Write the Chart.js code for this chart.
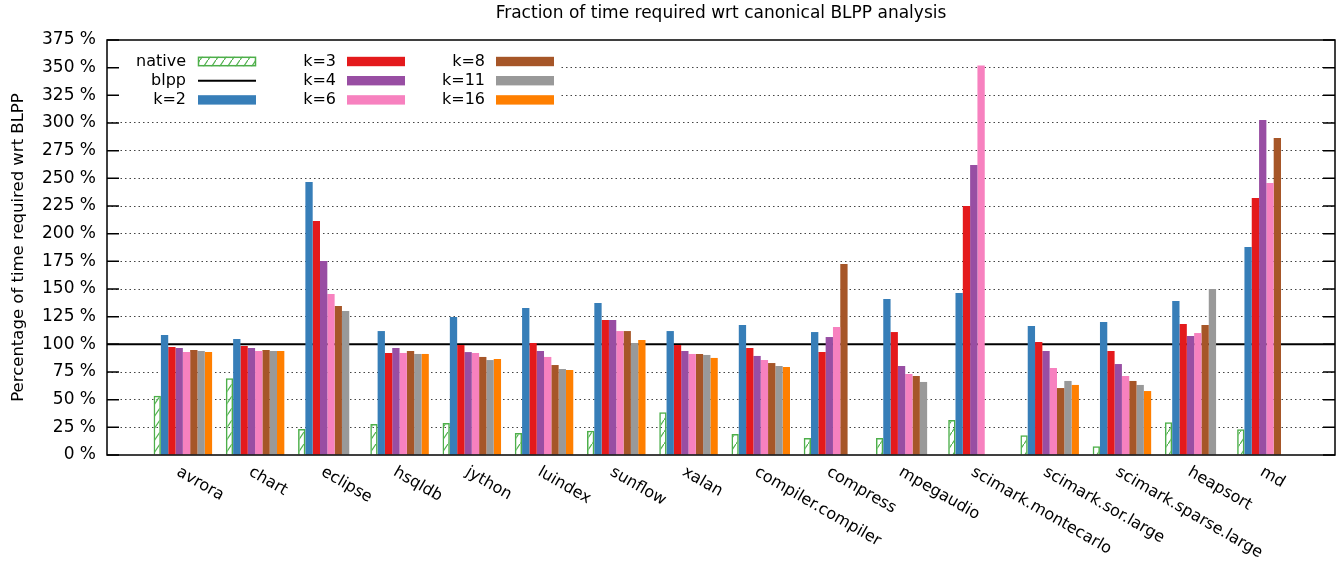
<!DOCTYPE html>
<html>
<head>
<meta charset="utf-8">
<script src="https://cdn.jsdelivr.net/npm/chart.js@4.4.1/dist/chart.umd.min.js"></script>
<style>
  html, body { margin: 0; padding: 0; background: #fff; }
</style>
</head>
<body>
<canvas id="chartBars" width="1343" height="562"></canvas>
<script>
// benchmarks on the x axis
const categories = [
  "avrora", "chart", "eclipse", "hsqldb", "jython", "luindex", "sunflow", "xalan",
  "compiler.compiler", "compress", "mpegaudio", "scimark.montecarlo",
  "scimark.sor.large", "scimark.sparse.large", "heapsort", "md",
];

// percentages of time wrt canonical BLPP (null = no bar)
const native = [53.6, 69.3, 23.5, 28, 28.9, 19.9, 22, 38.6, 19, 15.4, 15.4, 31.6, 17.8, 7.8, 29.5, 23.2];
const k2 = [108.4, 104.8, 246.7, 112, 124.7, 132.8, 137.3, 112, 117.5, 111.1, 141, 146.4, 116.6, 120.2, 139.2, 188];
const k3 = [97.6, 98.5, 211.4, 92.2, 99.4, 101.2, 122, 99.4, 96.7, 93.1, 111.1, 225, 102.1, 94, 118.4, 232.2];
const k4 = [96.7, 96.7, 175.3, 96.7, 93, 94, 122, 94, 89.5, 106.6, 80.4, 262, 94, 82.2, 107.5, 302.7];
const k6 = [93.1, 94, 145.5, 92.2, 92.2, 88.6, 112, 91.3, 85.8, 115.7, 73.2, 352, 78.6, 71.4, 110.2, 245.8];
const k8 = [94.9, 94.9, 134.6, 94, 88.6, 81.3, 112, 91.3, 83.1, 172.6, 71.4, null, 60.5, 66.9, 117.5, 286.4];
const k11 = [94, 94, 130.1, 91.3, 85.8, 77.7, 101.2, 90.4, 80.4, null, 66, null, 66.9, 63.3, 150, null];
const k16 = [93.1, 94, null, 91.3, 86.7, 76.8, 103.9, 87.7, 79.5, null, null, null, 63.3, 57.8, null, null];

const kLabels = ["k=2", "k=3", "k=4", "k=6", "k=8", "k=11", "k=16"];
const kSeries = [k2, k3, k4, k6, k8, k11, k16];
const kColors = ["#377eb8", "#e41a1c", "#984ea3", "#f781bf", "#a65628", "#999999", "#ff7f00"];

// y axis ticks and reference level
const Y_MIN = 0;
const Y_MAX = 375;
const Y_STEP = 25;
const BLPP_LEVEL = 100;
// x range in group units (gnuplot histogram range)
const X_MIN = -1.05;
const X_MAX = 15.95;

const FONT = "DejaVu Sans";
const GREEN = "#4daf4a";

const canvas = document.getElementById("chartBars");
const ctx = canvas.getContext("2d");

// hatched fill for the native bars
function makeHatch() {
  const c = document.createElement("canvas");
  c.width = 8;
  c.height = 12;
  const g = c.getContext("2d");
  g.strokeStyle = GREEN;
  g.lineWidth = 1.2;
  g.beginPath();
  g.moveTo(0, 12);
  g.lineTo(8, 0);
  g.stroke();
  return ctx.createPattern(c, "repeat");
}
const hatch = makeHatch();

const toPoints = (vals) => vals.map((v, i) => ({ x: i, y: v }));

const datasets = [
  {
    label: "native",
    data: toPoints(native),
    backgroundColor: hatch,
    borderColor: GREEN,
    borderWidth: 1.5,
    borderSkipped: "bottom",
  },
  {
    type: "line",
    label: "blpp",
    data: [{ x: X_MIN, y: BLPP_LEVEL }, { x: X_MAX, y: BLPP_LEVEL }],
    borderColor: "#000",
    borderWidth: 2,
    pointRadius: 0,
    order: 10,
  },
];
kSeries.forEach((vals, i) => {
  datasets.push({
    label: kLabels[i],
    data: toPoints(vals),
    backgroundColor: kColors[i],
    borderWidth: 0,
  });
});

// frame, inward ticks, rotated x labels and the key (gnuplot look)
const gnuplotBits = {
  id: "gnuplotBits",
  afterDatasetsDraw(chart) {
    const { ctx, chartArea: a, scales } = chart;
    ctx.save();
    ctx.strokeStyle = "#000";
    ctx.lineWidth = 1.5;
    ctx.strokeRect(a.left, a.top, a.right - a.left, a.bottom - a.top);
    ctx.beginPath();
    scales.y.ticks.forEach((t) => {
      const y = scales.y.getPixelForValue(t.value);
      ctx.moveTo(a.left, y);
      ctx.lineTo(a.left + 12, y);
      ctx.moveTo(a.right - 12, y);
      ctx.lineTo(a.right, y);
    });
    ctx.stroke();
    ctx.restore();
  },
  afterDraw(chart) {
    const { ctx, chartArea: a, scales } = chart;
    ctx.save();
    ctx.fillStyle = "#000";
    ctx.font = "16px '" + FONT + "'";

    // x labels rotated by -30 (clockwise) starting at the tick
    ctx.textAlign = "left";
    ctx.textBaseline = "middle";
    categories.forEach((name, i) => {
      const px = scales.x.getPixelForValue(i);
      ctx.save();
      ctx.translate(px - 5, a.bottom + 16);
      ctx.rotate(Math.PI / 6);
      ctx.fillText(name, 0, 0);
      ctx.restore();
    });

    // key: 3 columns x 3 rows, text then sample
    ctx.fillStyle = "#fff";
    ctx.fillRect(a.left + 13, a.top + 4, 440, 66);
    const textRight = [186, 336, 485];
    const sampleLeft = [198, 347, 496];
    const rowY = [61.5, 80.7, 99.9];
    const sampleW = 58;
    const sampleH = 9.4;
    chart.data.datasets.forEach((ds, i) => {
      const col = Math.floor(i / 3);
      const row = i % 3;
      const y = rowY[row];
      ctx.fillStyle = "#000";
      ctx.textAlign = "right";
      ctx.fillText(ds.label, textRight[col], y);
      const x0 = sampleLeft[col];
      if (ds.type === "line") {
        ctx.strokeStyle = ds.borderColor;
        ctx.lineWidth = ds.borderWidth;
        ctx.beginPath();
        ctx.moveTo(x0, y);
        ctx.lineTo(x0 + sampleW, y);
        ctx.stroke();
      } else {
        ctx.fillStyle = ds.backgroundColor;
        ctx.fillRect(x0, y - sampleH / 2, sampleW, sampleH);
        if (ds.borderWidth) {
          ctx.strokeStyle = ds.borderColor;
          ctx.lineWidth = ds.borderWidth;
          ctx.strokeRect(x0 + 0.5, y - sampleH / 2 + 0.5, sampleW - 1, sampleH - 1);
        }
      }
    });
    ctx.restore();
  },
};

const chartBars = new Chart(canvas, {
  type: "bar",
  data: { datasets: datasets },
  options: {
    responsive: false,
    animation: false,
    layout: { padding: { top: 0, left: 0, right: 8, bottom: 0 } },
    datasets: {
      bar: { categoryPercentage: 0.81, barPercentage: 1 },
    },
    plugins: {
      legend: { display: false },
      tooltip: { enabled: false },
      title: {
        display: true,
        text: "Fraction of time required wrt canonical BLPP analysis",
        color: "#000",
        fullSize: false,
        font: { family: FONT, size: 17, weight: "normal" },
        padding: { top: 3.5, bottom: 16.1 },
      },
    },
    scales: {
      x: {
        type: "linear",
        offset: false,
        min: X_MIN,
        max: X_MAX,
        grid: { display: false },
        border: { display: false },
        ticks: { display: false },
        afterBuildTicks: (axis) => {
          axis.ticks = categories.map((c, i) => ({ value: i }));
        },
        afterFit: (scale) => {
          scale.height = 107;
        },
      },
      y: {
        min: Y_MIN,
        max: Y_MAX,
        ticks: {
          stepSize: Y_STEP,
          color: "#000",
          padding: 11,
          font: { family: FONT, size: 17 },
          callback: (v) => v + " %",
        },
        grid: {
          drawTicks: false,
          lineWidth: 1,
          color: (c) =>
            c.tick && (c.tick.value === Y_MIN || c.tick.value === Y_MAX || c.tick.value === BLPP_LEVEL)
              ? "rgba(0,0,0,0)"
              : "#444",
        },
        border: { display: false, dash: [1.5, 3] },
        title: {
          display: true,
          text: "Percentage of time required wrt BLPP",
          color: "#000",
          font: { family: FONT, size: 16.5 },
          padding: { top: 9, bottom: 0 },
        },
        afterFit: (scale) => {
          scale.width = 107;
        },
      },
    },
  },
  plugins: [gnuplotBits],
});
</script>
